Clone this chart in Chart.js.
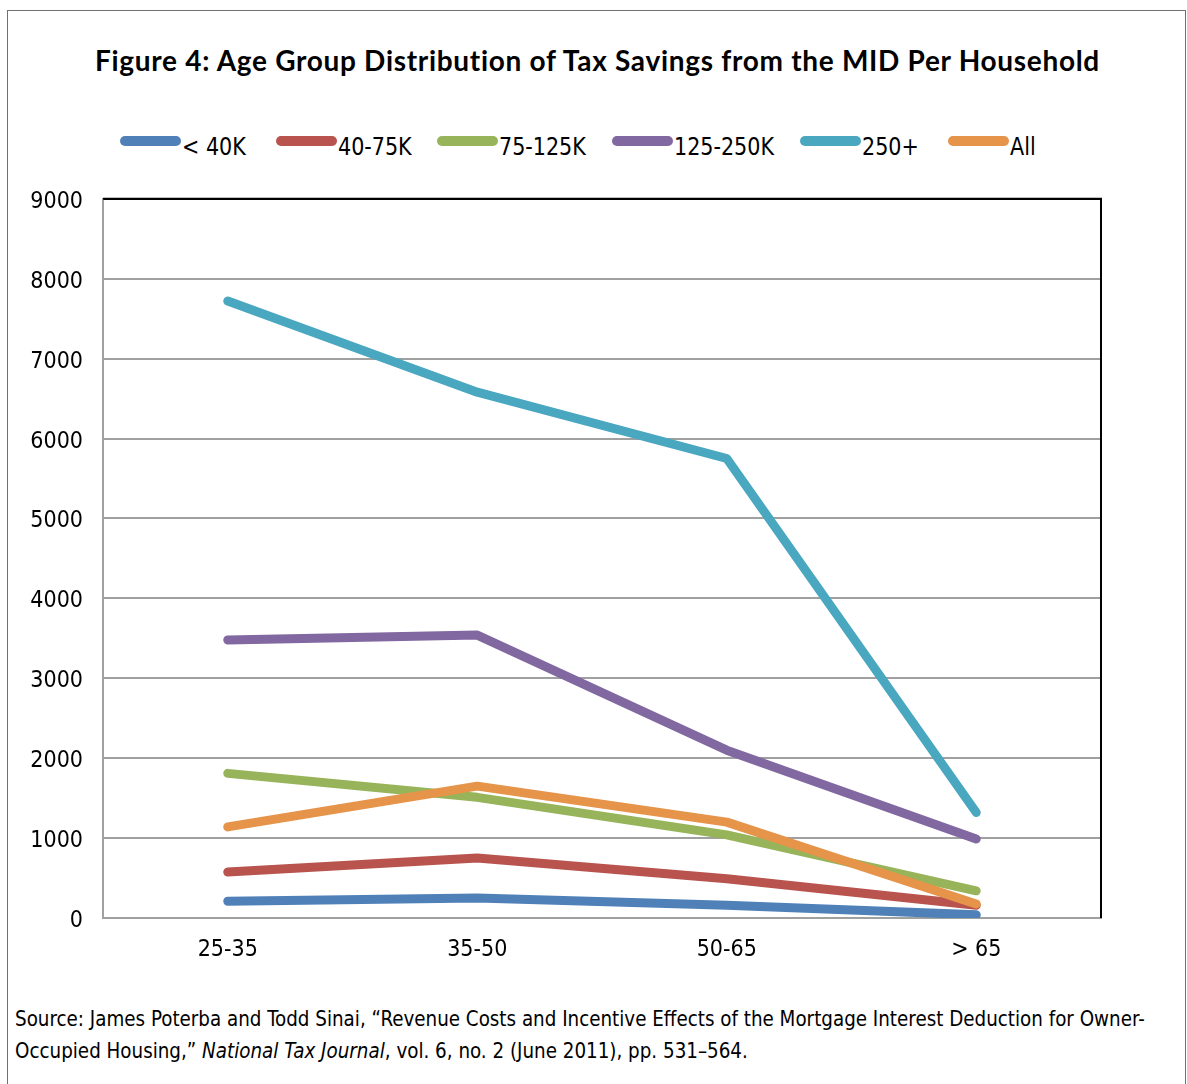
<!DOCTYPE html>
<html>
<head>
<meta charset="utf-8">
<script src="https://cdn.jsdelivr.net/npm/chart.js@4"></script>
<style>
  body { margin: 0; background: #fff; }
  #frame {
    position: absolute; left: 7px; top: 10px; width: 1179px; height: 1090px;
    border: 1px solid #707070; box-sizing: border-box;
  }
  #title {
    position: absolute; left: 4px; top: 43px; width: 1187px; text-align: center;
    font-family: Lato, "DejaVu Sans", sans-serif; font-weight: bold; font-size: 28px;
    letter-spacing: 0.7px; font-variant-ligatures: none;
    color: #000; white-space: nowrap;
  }
  #legend {
    position: absolute; left: 0; top: 131px; width: 1187px; height: 32px;
    font-family: "DejaVu Sans Condensed", "DejaVu Sans", sans-serif; font-stretch: condensed; font-size: 25px;
  }
  .item { position: absolute; top: 0; height: 32px; white-space: nowrap; }
  .swatch { position: absolute; top: 5px; width: 61px; height: 10px; border-radius: 5px; }
  .label {
    position: absolute; left: 62px; top: 0; line-height: 32px; color: #000;
    transform: scaleX(0.92); transform-origin: left center;
  }
  #wrap { position: absolute; left: 0; top: 165px; width: 1187px; height: 825px; }
  #source {
    position: absolute; left: 15px; top: 1003px;
    font-family: "DejaVu Sans Condensed", "DejaVu Sans", sans-serif; font-stretch: condensed; font-size: 22px;
    line-height: 32px; color: #000; white-space: nowrap;
    transform: scaleX(0.925); transform-origin: left top;
  }
</style>
</head>
<body>
<div id="frame"></div>
<div id="title">Figure 4: Age Group Distribution of Tax Savings from the MID Per Household</div>
<div id="legend"></div>
<div id="wrap"><canvas id="graph" width="1187" height="825"></canvas></div>
<div id="source">Source: James Poterba and Todd Sinai, “Revenue Costs and Incentive Effects of the Mortgage Interest Deduction for Owner-<br>Occupied Housing,” <i>National Tax Journal</i>, vol. 6, no. 2 (June 2011), pp. 531–564.</div>

<script>
/* Donnees : economies d'impot par menage selon l'age */
var ageGroups = ["25-35", "35-50", "50-65", "> 65"];
var seriesNames = ["< 40K", "40-75K", "75-125K", "125-250K", "250+", "All"];
var seriesColors = ["#4f81b8", "#b9534e", "#98b45a", "#8168a0", "#4aa7c0", "#e6944a"];

var under40 = [210, 250, 160, 40];
var from40to75 = [575, 750, 490, 160];
var from75to125 = [1810, 1510, 1040, 340];
var from125to250 = [3480, 3540, 2100, 990];
var over250 = [7720, 6580, 5750, 1320];
var allIncomes = [1140, 1650, 1200, 175];

var yTicks = [0, 1000, 2000, 3000, 4000, 5000, 6000, 7000, 8000, 9000];

var seriesValues = [under40, from40to75, from75to125, from125to250, over250, allIncomes];

/* Legende en HTML (positions des entrees) */
var legendX = [120, 276, 437, 612, 800, 948];
var legend = document.getElementById("legend");
seriesNames.forEach(function(name, i) {
    var item = document.createElement("div");
    item.className = "item";
    item.style.left = legendX[i] + "px";
    item.innerHTML = '<div class="swatch" style="background:' + seriesColors[i] + '"></div>' +
                     '<div class="label">' + name.replace("<", "&lt;") + '</div>';
    legend.appendChild(item);
});

/* Cadre noir en haut et a droite de la zone du graphique */
var plotBorder = {
    id: "plotBorder",
    afterDatasetsDraw: function(chart) {
        var a = chart.chartArea, ctx = chart.ctx;
        ctx.save();
        ctx.strokeStyle = "#000";
        ctx.lineWidth = 2;
        ctx.beginPath();
        ctx.moveTo(a.left, a.top);
        ctx.lineTo(a.right, a.top);
        ctx.lineTo(a.right, a.bottom);
        ctx.stroke();
        ctx.restore();
    }
};

var tickFont = { family: "'DejaVu Sans Condensed', 'DejaVu Sans', sans-serif", size: 23 };

var graph = document.getElementById("graph").getContext("2d");

var myChart = new Chart(graph, {
    type: "line",
    data: {
        labels: ageGroups,
        datasets: seriesNames.map(function(name, i) {
            return {
                label: name,
                data: seriesValues[i],
                borderColor: seriesColors[i],
                backgroundColor: seriesColors[i],
                borderWidth: 9,
                borderCapStyle: "round",
                borderJoinStyle: "round",
                pointRadius: 0,
                tension: 0,
                order: seriesNames.length - i,
            };
        }),
    },
    options: {
        responsive: false,
        animation: false,
        layout: {
            padding: { top: 29, right: 86, left: 0, bottom: 0 },
        },
        plugins: {
            legend: { display: false },
            tooltip: { enabled: false },
        },
        scales: {
            x: {
                offset: true,
                grid: { display: false, drawTicks: false },
                border: { color: "#a0a0a0", width: 2 },
                ticks: { color: "#000", font: tickFont, padding: 18, maxRotation: 0 },
                afterFit: function(scale) { scale.height = 72; },
            },
            y: {
                min: 0,
                max: 9000,
                afterBuildTicks: function(scale) {
                    scale.ticks = yTicks.map(function(v) { return { value: v }; });
                },
                grid: {
                    color: function(c) { return c.tick && c.tick.value === 9000 ? "#000" : "#a0a0a0"; },
                    lineWidth: 2,
                    drawTicks: false,
                },
                border: { color: "#a0a0a0", width: 2 },
                ticks: {
                    color: "#000",
                    font: tickFont,
                    padding: 20,
                    labelOffset: 3,
                    callback: function(v) { return String(v); },
                },
                afterFit: function(scale) { scale.width = 103; },
            },
        },
    },
    plugins: [plotBorder],
});
</script>
</body>
</html>
